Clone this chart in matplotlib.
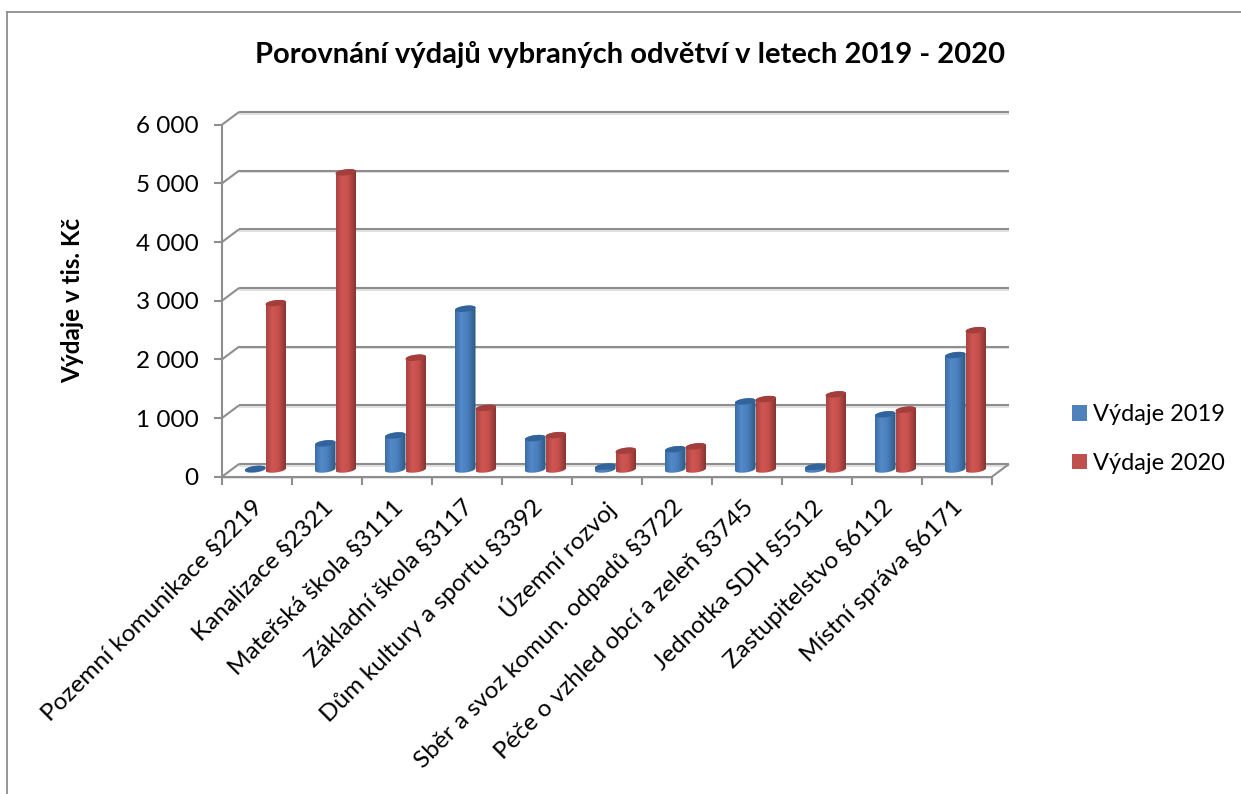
import numpy as np
import matplotlib
matplotlib.use('Agg')
import matplotlib.pyplot as plt
from matplotlib.lines import Line2D
from matplotlib.patches import Patch, PathPatch
from matplotlib.path import Path
from matplotlib.transforms import Affine2D, IdentityTransform

categories = ['Pozemní komunikace §2219', 'Kanalizace §2321', 'Mateřská škola §3111',
              'Základní škola §3117', 'Dům kultury a sportu §3392', 'Územní rozvoj',
              'Sběr a svoz komun. odpadů §3722', 'Péče o vzhled obcí a zeleň §3745',
              'Jednotka SDH §5512', 'Zastupitelstvo §6112', 'Místní správa §6171']
vydaje_2019 = [10, 445, 580, 2740, 535, 50, 345, 1160, 45, 940, 1950]
vydaje_2020 = [2835, 5065, 1905, 1050, 585, 320, 395, 1200, 1280, 1020, 2375]
yticks = [0, 1000, 2000, 3000, 4000, 5000, 6000]
yticklabels = ['0', '1 000', '2 000', '3 000', '4 000', '5 000', '6 000']

W, H = 1241, 794
GRID = '#8e8e8e'
plt.rcParams['font.family'] = ['Lato', 'DejaVu Sans']

fig = plt.figure(figsize=(W / 100, H / 100), dpi=100)
fig.patch.set_facecolor('white')
# predni rovina grafu v pixelech
ax = fig.add_axes([222 / W, 1 - 476.7 / H, 770 / W, 352 / H])
ax.patch.set_alpha(0)

n = len(categories)
back = ax.transData + Affine2D().translate(17, 12.7)
mid = ax.transData + Affine2D().translate(8.5, 7.2)
ax.set_xlim(0, n)
ax.set_ylim(0, 6000)


def seg(p0, p1, color=GRID, lw=1.5, z=1):
    fig.add_artist(Line2D([p0[0], p1[0]], [p0[1], p1[1]], transform=IdentityTransform(),
                          color=color, lw=lw, zorder=z, solid_capstyle='butt'))


# zadni stena a podlaha
for v in yticks:
    a = back.transform((0, v))
    b = back.transform((n, v))
    seg((a[0], a[1] - 1.6), (b[0], b[1] - 1.6), color='#dcdcdc', lw=1.2, z=0.5)
    seg(a, b)
    seg(ax.transData.transform((0, v)), a)
seg(ax.transData.transform((n, 0)), back.transform((n, 0)))
p0 = ax.transData.transform((0, 0))
p1 = ax.transData.transform((n, 0))
seg((p0[0], p0[1] - 1.6), (p1[0], p1[1] - 1.6), color='#dcdcdc', lw=1.2, z=0.5)

ax.set_zorder(5)


def shades(stops):
    xs = np.linspace(0, 1, 64)
    pos = [s[0] for s in stops]
    rgb = np.array([matplotlib.colors.to_rgb(s[1]) for s in stops])
    return np.stack([np.interp(xs, pos, rgb[:, i]) for i in range(3)], axis=1)[None, :, :]


blue_grad = shades([(0, '#3b6da6'), (0.3, '#5389c9'), (0.6, '#4a7fbd'), (0.9, '#34618f'), (1, '#2d5680')])
red_grad = shades([(0, '#a84441'), (0.3, '#cf5653'), (0.6, '#c64f4c'), (0.9, '#8f3835'), (1, '#7f302e')])

BAR_W = 20.5 / 70
RX = BAR_W / 2
RY = 3 / 58.67 * 1000
TILT = 1.2 / 58.67 * 1000 / RX  # elipsa je mirne naklonena


def arc_pts(c, v, a0, a1):
    t = np.linspace(a0, a1, 40)
    xs = c + RX * np.cos(t)
    ys = v + RY * np.sin(t) + TILT * (xs - c)
    return np.column_stack([xs, ys])


def draw_cylinder(c, v, grad, top_color, z):
    low = arc_pts(c, 0, np.pi, 2 * np.pi)
    high = arc_pts(c, v, 0, np.pi)
    verts = np.vstack([low, high, low[:1]])
    codes = [Path.MOVETO] + [Path.LINETO] * (len(verts) - 2) + [Path.CLOSEPOLY]
    outline = PathPatch(Path(verts, codes), transform=mid, facecolor='none', edgecolor='none')
    ax.add_patch(outline)
    im = ax.imshow(grad, extent=[c - RX, c + RX, -2 * RY, v + 2 * RY], aspect='auto',
                   transform=mid, zorder=z, interpolation='bilinear', clip_on=True)
    im.set_clip_path(outline)
    top = arc_pts(c, v, 0, 2 * np.pi)
    ax.fill(top[:, 0], top[:, 1], color=top_color, transform=mid, zorder=z + 0.1, lw=0, clip_on=False)


for i in range(n):
    c = i + 0.5
    draw_cylinder(c - BAR_W / 2, vydaje_2019[i], blue_grad, '#33639b', 3)
    draw_cylinder(c + BAR_W / 2, vydaje_2020[i], red_grad, '#a23e3b', 4)

ax.set_xlim(0, n)
ax.set_ylim(0, 6000)

for s in ['top', 'right']:
    ax.spines[s].set_visible(False)
for s in ['left', 'bottom']:
    ax.spines[s].set_color(GRID)
    ax.spines[s].set_linewidth(1.5)

ax.set_yticks(yticks)
ax.set_yticklabels(yticklabels, fontsize=17.5)
ax.set_xticks(np.arange(n + 1))
ax.set_xticklabels([])
ax.set_xticks(np.arange(n) + 0.5, minor=True)
ax.set_xticklabels(categories, minor=True, rotation=45, ha='right', va='top',
                   rotation_mode='anchor', fontsize=17.6)
ax.tick_params(axis='y', length=5.8, width=1.5, color=GRID, pad=11)
ax.tick_params(axis='x', which='major', length=5.8, width=1.5, color=GRID)
ax.tick_params(axis='x', which='minor', length=0, pad=14)
for lbl in ax.get_xticklabels(minor=True):
    lbl.set_transform(lbl.get_transform() + Affine2D().translate(-5, 0))

fig.text(630 / W, 1 - 54 / H, 'Porovnání výdajů vybraných odvětví v letech 2019 - 2020',
         fontsize=21, fontweight='bold', ha='center', va='center')
fig.text(73 / W, 1 - 300 / H, 'Výdaje v tis. Kč', fontsize=17.5, fontweight='bold',
         rotation=90, ha='center', va='center')

handles = [Patch(facecolor='#4f81bd', label='Výdaje 2019'), Patch(facecolor='#c0504d', label='Výdaje 2020')]
fig.legend(handles=handles, loc='center left', bbox_to_anchor=(1072 / W, 1 - 439 / H), frameon=False,
           fontsize=17, borderpad=0, borderaxespad=0, handlelength=0.64, handleheight=0.64,
           handletextpad=0.26, labelspacing=1.18)

# ramecek grafu
fig.add_artist(Line2D([7 / W, 7 / W], [0, 1 - 12 / H], color=GRID, lw=1.3))
fig.add_artist(Line2D([7 / W, 1], [1 - 12 / H, 1 - 12 / H], color=GRID, lw=1.3))

fig.savefig('out.png', dpi=100)
